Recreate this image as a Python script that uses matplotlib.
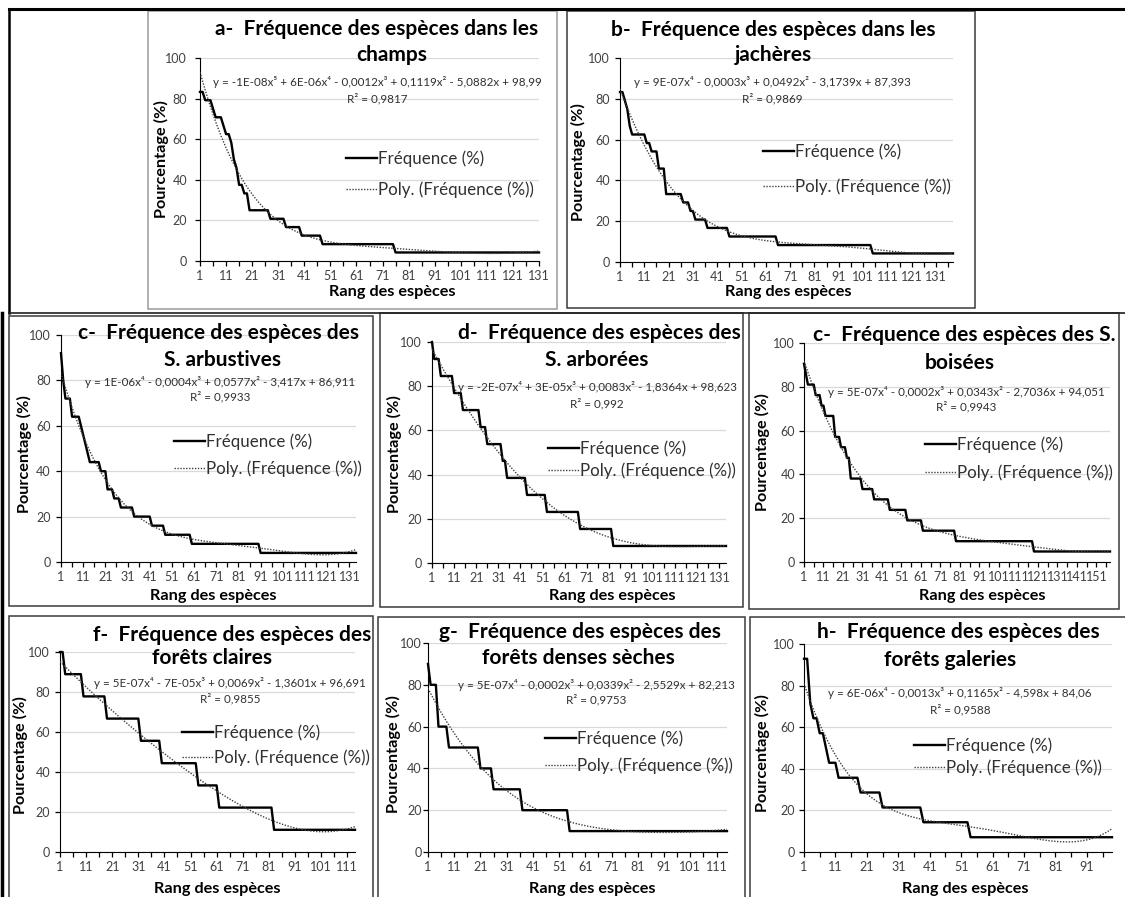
import numpy as np
import matplotlib.pyplot as plt
from matplotlib.patches import Rectangle
from matplotlib.lines import Line2D

plt.rcParams['font.family'] = ['Lato', 'DejaVu Sans']

W, H = 1125, 897

# frequency levels (%) and number of species at each level
champs_lvl = [83.3, 79.2, 75.0, 70.8, 66.7, 62.5, 58.3, 50.0, 45.8, 37.5, 33.3, 25.0, 20.8, 16.7, 12.5, 8.3, 4.2]
champs_cnt = [2, 3, 1, 3, 1, 2, 1, 1, 1, 2, 2, 8, 6, 6, 8, 28, 56]

jach_lvl = [83.3, 79.2, 75.0, 66.7, 62.5, 58.3, 54.2, 45.8, 33.3, 29.2, 25.0, 20.8, 16.7, 12.5, 8.3, 4.2]
jach_cnt = [2, 1, 1, 1, 6, 2, 3, 3, 7, 3, 2, 5, 9, 20, 39, 34]

arbu_lvl = [92, 80, 72, 64, 60, 56, 52, 48, 44, 40, 32, 28, 24, 20, 16, 12, 8, 4]
arbu_cnt = [1, 1, 3, 4, 1, 1, 1, 1, 5, 3, 3, 3, 6, 8, 6, 12, 31, 44]

arbo_lvl = [100, 92.3, 84.6, 76.9, 69.2, 61.5, 53.8, 46.2, 38.5, 30.8, 23.1, 15.4, 7.7]
arbo_cnt = [1, 3, 6, 4, 8, 3, 7, 2, 9, 9, 15, 15, 52]

bois_lvl = [90.5, 85.7, 81.0, 76.2, 71.4, 66.7, 57.1, 52.4, 47.6, 38.1, 33.3, 28.6, 23.8, 19.0, 14.3, 9.5, 4.8]
bois_cnt = [1, 1, 4, 3, 2, 5, 3, 3, 2, 6, 6, 8, 9, 8, 17, 40, 40]

clair_lvl = [100, 88.9, 77.8, 66.7, 55.6, 44.4, 33.3, 22.2, 11.1]
clair_cnt = [2, 7, 9, 13, 8, 14, 8, 21, 32]

dense_lvl = [90, 80, 60, 50, 40, 30, 20, 10]
dense_cnt = [1, 3, 4, 12, 5, 11, 18, 61]

gal_lvl = [92.9, 71.4, 64.3, 57.1, 50.0, 42.9, 35.7, 28.6, 21.4, 14.3, 7.1]
gal_cnt = [2, 1, 2, 2, 1, 3, 7, 7, 13, 15, 46]

titles = [
    ("a-  Fréquence des espèces dans les", "champs"),
    ("b-  Fréquence des espèces dans les", "jachères"),
    ("c-  Fréquence des espèces des", "S. arbustives"),
    ("d-  Fréquence des espèces des", "S. arborées"),
    ("c-  Fréquence des espèces des S.", "boisées"),
    ("f-  Fréquence des espèces des", "forêts claires"),
    ("g-  Fréquence des espèces des", "forêts denses sèches"),
    ("h-  Fréquence des espèces des", "forêts galeries"),
]
equations = [
    "y = -1E-08x⁵ + 6E-06x⁴ - 0,0012x³ + 0,1119x² - 5,0882x + 98,99",
    "y = 9E-07x⁴ - 0,0003x³ + 0,0492x² - 3,1739x + 87,393",
    "y = 1E-06x⁴ - 0,0004x³ + 0,0577x² - 3,417x + 86,911",
    "y = -2E-07x⁴ + 3E-05x³ + 0,0083x² - 1,8364x + 98,623",
    "y = 5E-07x⁴ - 0,0002x³ + 0,0343x² - 2,7036x + 94,051",
    "y = 5E-07x⁴ - 7E-05x³ + 0,0069x² - 1,3601x + 96,691",
    "y = 5E-07x⁴ - 0,0002x³ + 0,0339x² - 2,5529x + 82,213",
    "y = 6E-06x⁴ - 0,0013x³ + 0,1165x² - 4,598x + 84,06",
]
r2_labels = ["R² = 0,9817", "R² = 0,9869", "R² = 0,9933", "R² = 0,992",
             "R² = 0,9943", "R² = 0,9855", "R² = 0,9753", "R² = 0,9588"]
poly_deg = [5, 4, 4, 4, 4, 4, 4, 4]

levels = [champs_lvl, jach_lvl, arbu_lvl, arbo_lvl, bois_lvl, clair_lvl, dense_lvl, gal_lvl]
counts = [champs_cnt, jach_cnt, arbu_cnt, arbo_cnt, bois_cnt, clair_cnt, dense_cnt, gal_cnt]

# layout in pixels (origin top-left)
boxes = [(148, 11, 557, 309), (567, 11, 975, 308), (9, 316, 373, 606), (380, 313, 743, 607),
         (749, 313, 1119, 609), (9, 616, 373, 905), (378, 617, 745, 905), (750, 617, 1130, 905)]
axpos = [(200, 539, 58, 261), (620, 953, 58, 262), (61, 356, 335, 562), (432, 726, 342, 563),
         (804, 1110, 343, 562), (60, 355, 652, 852), (428, 727, 643, 852), (804, 1112, 644, 852)]
title_pos = [(377, 29, 392, 55), (773, 30, 773, 55), (219, 333, 222, 360), (599, 333, 597, 360),
             (964, 335, 960, 363), (232, 635, 212, 658), (580, 632, 578, 658), (958, 632, 950, 660)]
eq_pos = [(377, 82, 99), (772, 82, 99), (220, 382, 397), (597, 387, 404),
          (966, 392, 407), (230, 683, 699), (596, 685, 700), (960, 693, 710)]
leg_pos = [(346, 157, 192), (763, 150, 189), (174, 440, 471), (548, 447, 473),
           (925, 443, 475), (182, 731, 760), (545, 737, 768), (914, 744, 770)]
xlab_pos = [(392, 292), (788, 292), (213, 596), (612, 596), (982, 596), (217, 889), (592, 889), (965, 889)]
ylab_pos = [(161, 159), (578, 162), (24, 454), (394, 454), (762, 452), (20, 755), (393, 754), (762, 753)]
ytick_pad = [5.8, 3.6, 4.0, 3.6, 3.0, 3.6, 1.0, 3.0]
box_col = ['#9a9a9a'] + ['#3a3a3a'] * 7


def fx(x):
    return x / W


def fy(y):
    return 1 - y / H


fig = plt.figure(figsize=(W / 100, H / 100), dpi=100)

# table frame lines
fig.add_artist(Line2D([fx(9), fx(1125)], [fy(9), fy(9)], color='black', lw=2.2))
fig.add_artist(Line2D([fx(9), fx(9)], [fy(9), fy(313)], color='black', lw=1.8))
fig.add_artist(Line2D([fx(9), fx(1125)], [fy(313), fy(313)], color='#202020', lw=1.2))
fig.add_artist(Line2D([fx(2), fx(2)], [fy(313), fy(897)], color='black', lw=2.5))

leg_fs = 12.2
leg_px = leg_fs * 100 / 72

for i in range(8):
    l, t, r, b = boxes[i]
    fig.add_artist(Rectangle((fx(l), fy(b)), fx(r) - fx(l), fy(t) - fy(b),
                             transform=fig.transFigure, fill=False, ec=box_col[i], lw=1.1))
    x0, x1, ytop, ybot = axpos[i]
    ax = fig.add_axes([fx(x0), fy(ybot), fx(x1) - fx(x0), fy(ytop) - fy(ybot)])

    y = np.repeat(levels[i], counts[i])
    x = np.arange(1, len(y) + 1)
    fit = np.polynomial.Polynomial.fit(x, y, poly_deg[i])
    l1, = ax.plot(x, y, color='black', lw=1.7, clip_on=False, zorder=3, label='Fréquence (%)')
    l2, = ax.plot(x, fit(x), color='#404040', lw=1.0, ls=(0, (1, 1.1)), zorder=4,
                  label='Poly. (Fréquence (%))')

    n = len(y)
    ax.set_xlim(1, n)
    ax.set_ylim(0, 100)
    ax.set_yticks(range(0, 101, 20))
    ax.set_xticks(range(1, n + 1, 10))
    ax.set_xticks(range(6, n + 1, 10), minor=True)
    ax.grid(axis='y', color='#d9d9d9', lw=0.9)
    ax.set_axisbelow(True)
    for s in ['top', 'right']:
        ax.spines[s].set_visible(False)
    ax.spines['left'].set_color('black')
    ax.spines['bottom'].set_color('black')
    ax.tick_params(axis='both', which='both', direction='out', length=3.5, width=0.9,
                   labelsize=9.0, labelcolor='#404040', color='black')
    ax.tick_params(axis='x', pad=3)
    ax.tick_params(axis='y', pad=ytick_pad[i])

    t1, t2 = titles[i]
    tx1, ty1, tx2, ty2 = title_pos[i]
    fig.text(fx(tx1), fy(ty1), t1, ha='center', va='center', fontsize=15, fontweight='bold')
    fig.text(fx(tx2), fy(ty2), t2, ha='center', va='center', fontsize=15, fontweight='bold')

    ex, ey, ry = eq_pos[i]
    fig.text(fx(ex), fy(ey), equations[i], ha='center', va='center', fontsize=8.4, color='#303030')
    fig.text(fx(ex), fy(ry), r2_labels[i], ha='center', va='center', fontsize=8.4, color='#303030')

    lx, ly1, ly2 = leg_pos[i]
    pitch = (ly2 - ly1) / leg_px
    ax.legend(handles=[l1, l2], loc='center left',
              bbox_to_anchor=(fx(lx), fy((ly1 + ly2) / 2)), bbox_transform=fig.transFigure,
              frameon=False, borderpad=0, borderaxespad=0, fontsize=leg_fs,
              handlelength=1.85, handletextpad=0.05, labelspacing=max(pitch - 1.2, 0.05),
              labelcolor='#303030')

    xlx, xly = xlab_pos[i]
    fig.text(fx(xlx), fy(xly), 'Rang des espèces', ha='center', va='center',
             fontsize=11.7, fontweight='bold')
    ylx, yly = ylab_pos[i]
    fig.text(fx(ylx), fy(yly), 'Pourcentage (%)', ha='center', va='center',
             fontsize=11.7, fontweight='bold', rotation=90)

fig.savefig('out.png', dpi=100)
